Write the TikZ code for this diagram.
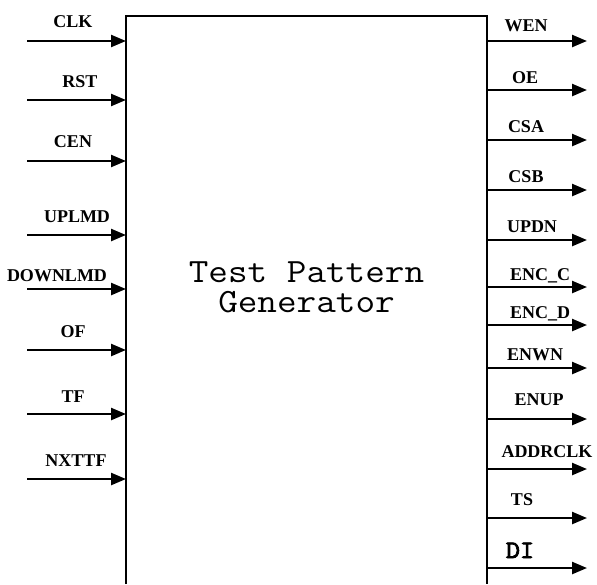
\documentclass[tikz,border=0pt]{standalone}
\usepackage{fontspec}
\setmainfont{Liberation Serif}
\newfontfamily\titlefont[FakeStretch=1.12]{Latin Modern Mono}
\newfontfamily\monobold[FakeStretch=1.1,FakeBold=3]{Latin Modern Mono}
\usetikzlibrary{arrows.meta}
\begin{document}
\begin{tikzpicture}[x=1pt,y=-1pt,
  sig/.style={line width=2.4pt,-{Triangle[length=15pt,width=12pt]}},
  pinlabel/.style={anchor=base,inner sep=0pt,font=\fontsize{18}{20}\selectfont\bfseries},
  titletext/.style={anchor=center,inner sep=0pt,align=center,
    font=\titlefont\fontsize{34}{30}\selectfont}]
  \useasboundingbox (0,0) rectangle (597,584);

  % block outline, open at the bottom
  \coordinate (bl) at (126,584);
  \coordinate (tl) at (126,16);
  \coordinate (tr) at (487,16);
  \coordinate (br) at (487,584);
  \draw[line width=1.1pt] (bl) -- (tl) -- (tr) -- (br);

  \node[titletext] (title) at (306.5,287) {Test Pattern\\Generator};

  % inputs: name / arrow y / label x / label baseline
  \foreach \nm/\ay/\lx/\ly [count=\i] in {
      CLK/41/73/27, RST/100/80/87, CEN/161/73/147, UPLMD/235/77/222,
      DOWNLMD/289/57/281, OF/350/73/337, TF/414/73/402, NXTTF/479/76/466} {
    \coordinate (in\i) at (27,\ay);
    \coordinate (pin\i) at (126,\ay);
    \draw[sig] (in\i) -- (pin\i);
    \node[pinlabel] (lin\i) at (\lx,\ly) {\nm};
  }

  % outputs
  \foreach \nm/\ay/\lx/\ly [count=\i] in {
      WEN/41/526/31, OE/90/525/83, CSA/140/526/132, CSB/190/526/182,
      UPDN/240/532/232, ENC\_C/287/540/280, ENC\_D/325/540/318,
      ENWN/368/535/360, ENUP/419/539/405, ADDRCLK/469/547/457,
      TS/518/522/505} {
    \coordinate (pout\i) at (487,\ay);
    \coordinate (out\i) at (587,\ay);
    \draw[sig] (pout\i) -- (out\i);
    \node[pinlabel] (lout\i) at (\lx,\ly) {\nm};
  }
  \coordinate (poutdi) at (487,568);
  \coordinate (outdi) at (587,568);
  \draw[sig] (poutdi) -- (outdi);
  \node[anchor=base,inner sep=0pt,font=\monobold\fontsize{25}{26}\selectfont] (loutdi) at (520,558) {DI};
\end{tikzpicture}
\end{document}
